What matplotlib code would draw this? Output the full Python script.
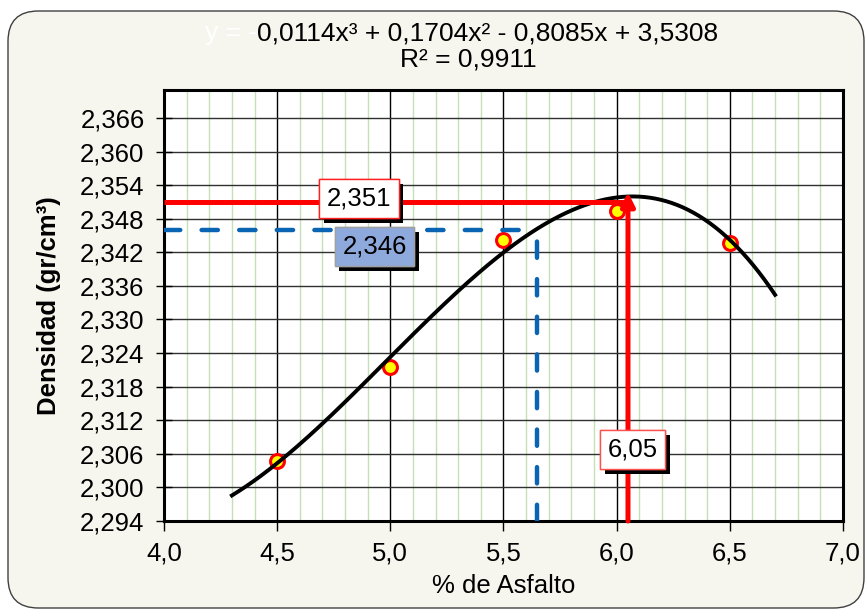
import numpy as np
import matplotlib
matplotlib.use("Agg")
import matplotlib.pyplot as plt
from matplotlib.patches import FancyBboxPatch
from matplotlib.ticker import MultipleLocator, FuncFormatter
from matplotlib.transforms import offset_copy
import matplotlib.patheffects as pe

plt.rcParams['font.family'] = ['Liberation Sans', 'DejaVu Sans']

# Marshall test data: asphalt content (%) vs bulk density (gr/cm3)
asfalto = [4.5, 5.0, 5.5, 6.0, 6.5]
densidad = [2.3047, 2.3216, 2.3442, 2.3493, 2.3436]

# Cubic trend line coefficients (highest power first) and fit range
coef = [-0.0114, 0.1704, -0.8085, 3.5308]
r2 = 0.9911
trend_x = [4.3, 6.7]

# Design values
opt_asfalto = 6.05
max_densidad = 2.351
alt_asfalto = 5.65
alt_densidad = 2.346

xlim = (4.0, 7.0)
ylim = (2.294, 2.371)
yticks = np.arange(2.294, 2.3665, 0.006)

FS = 18.5

fig = plt.figure(figsize=(8.68, 6.10), dpi=100)
fig.patch.set_facecolor('white')
frame = FancyBboxPatch((8 / 868, 2 / 610), 856 / 868, 597 / 610,
                       boxstyle="round,pad=0,rounding_size=0.035",
                       transform=fig.transFigure, facecolor='#F6F6EF',
                       edgecolor='#404040', lw=1.0, zorder=-10,
                       mutation_aspect=868 / 610)
fig.patches.append(frame)

ax = fig.add_axes([164 / 868, 89 / 610, 679 / 868, 431 / 610])
ax.set_facecolor('white')
ax.set_xlim(*xlim)
ax.set_ylim(*ylim)

# grid
ax.xaxis.set_major_locator(MultipleLocator(0.5))
ax.xaxis.set_minor_locator(MultipleLocator(0.1))
ax.set_yticks(yticks)
for xv in np.arange(4.1, 7.0, 0.1):
    if abs(xv * 2 - round(xv * 2)) > 1e-6:
        ax.axvline(xv, color='#C5E0B4', lw=1.0, zorder=0)
for xv in np.arange(4.5, 7.0, 0.5):
    ax.axvline(xv, color='black', lw=1.0, zorder=0.5)
for yv in yticks[1:]:
    ax.axhline(yv, color='#303030', lw=1.0, zorder=0.5)

ax.xaxis.set_major_formatter(FuncFormatter(lambda v, p: f"{v:.1f}".replace('.', ',')))
ax.yaxis.set_major_formatter(FuncFormatter(lambda v, p: f"{v:.3f}".replace('.', ',')))
ax.tick_params(axis='x', which='major', direction='out', length=7, width=1,
               labelsize=FS, pad=8)
ax.tick_params(axis='x', which='minor', length=0)
ax.tick_params(axis='y', direction='inout', length=12, width=1,
               labelsize=FS, pad=8)
for s in ax.spines.values():
    s.set_linewidth(2.2)
    s.set_color('black')

ax.set_xlabel('% de Asfalto', fontsize=FS, labelpad=6)
ax.set_ylabel('Densidad (gr/cm³)', fontsize=FS, fontweight='bold', labelpad=14)

# measured points
ax.plot(asfalto, densidad, 'o', ms=10, mfc='#FFFF00', mec='#FF0000', mew=2.2, zorder=3)

# trend line
xs = np.linspace(trend_x[0], trend_x[1], 300)
ax.plot(xs, np.polyval(coef, xs), color='black', lw=2.8, zorder=4)

# maximum density guides
ax.plot([xlim[0], opt_asfalto], [max_densidad, max_densidad], color='#FF0000',
        lw=3.6, solid_capstyle='butt', zorder=5)
ax.annotate('', xy=(opt_asfalto, max_densidad),
            xycoords=offset_copy(ax.transData, fig=fig, y=7, units='points'),
            xytext=(opt_asfalto, ylim[0]), textcoords='data',
            arrowprops=dict(arrowstyle='-|>', color='#FF0000', lw=3.6,
                            mutation_scale=20, shrinkA=0, shrinkB=0),
            zorder=5)

# alternative density guides
dash = (0, (3.66, 4.8))
ax.plot([xlim[0], alt_asfalto], [alt_densidad, alt_densidad], color='#0A64B4',
        lw=3.2, ls=dash, dash_capstyle='round', zorder=5)
ax.plot([alt_asfalto, alt_asfalto], [ylim[0], alt_densidad], color='#0A64B4',
        lw=3.2, ls=dash, dash_capstyle='round', zorder=5)

shadow = [pe.withSimplePatchShadow(offset=(3.5, -3.5), shadow_rgbFace='black', alpha=1.0),
          pe.Normal()]


def box_label(x, y, txt, face, edge):
    t = ax.text(x, y, txt, fontsize=FS, ha='center', va='center', zorder=6,
                bbox=dict(boxstyle='square,pad=0.3', facecolor=face,
                          edgecolor=edge, lw=1.0))
    t.get_bbox_patch().set_path_effects(shadow)
    return t


box_label(4.86, max_densidad + 0.0006, f"{max_densidad:.3f}".replace('.', ','),
          'white', '#FF2020')
box_label(4.93, 2.3430, f"{alt_densidad:.3f}".replace('.', ','),
          '#8EA9DB', '#A0A0A0')
box_label(6.07, 2.3068, f"{opt_asfalto:.2f}".replace('.', ','),
          'white', '#FF5050')

# trend equation
eq_rest = (f"{abs(coef[0]):.4f}x³ + {coef[1]:.4f}x² - {abs(coef[2]):.4f}x + {coef[3]:.4f}"
           .replace('.', ','))
t1 = fig.text(205 / 868, 1 - 33 / 610, 'y = -', color='white', fontsize=19,
              ha='left', va='center')
ax.annotate(eq_rest, xy=(1, 0.5), xycoords=t1, ha='left', va='center',
            fontsize=19, color='black', annotation_clip=False)
fig.text(468 / 868, 1 - 59 / 610, f"R² = {r2:.4f}".replace('.', ','),
         fontsize=19, ha='center', va='center')

fig.savefig('out.png', dpi=100, facecolor=fig.get_facecolor())
